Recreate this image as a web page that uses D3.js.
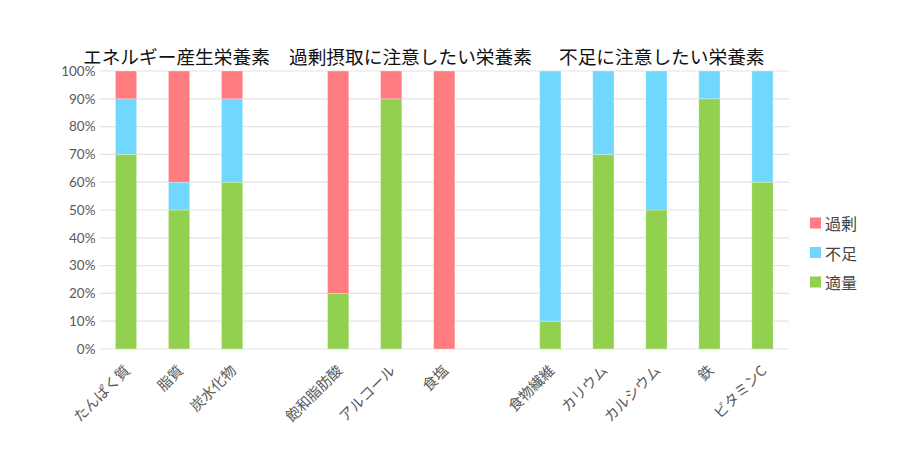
<!DOCTYPE html>
<html><head><meta charset="utf-8">
<script src="https://cdn.jsdelivr.net/npm/d3@7"></script>
<style>body{margin:0;background:#fff}svg{display:block}</style>
</head><body><svg id="c" width="920" height="458"></svg>
<script>
// Data (percentages). Empty strings are spacer slots between groups.
const categories = ["たんぱく質","脂質","炭水化物","","飽和脂肪酸","アルコール","食塩","","食物繊維","カリウム","カルシウム","鉄","ビタミンC"];
const tekiryo = [70,50,60,null,20,90,0,null,10,70,50,90,60];   // 適量
const fusoku  = [20,10,30,null,0,0,0,null,90,30,50,10,40];      // 不足
const kajo    = [10,40,10,null,80,10,100,null,0,0,0,0,0];       // 過剰
const seriesNames = ["適量","不足","過剰"];
const legendOrder = ["過剰","不足","適量"];
const groupTitles = ["エネルギー産生栄養素","過剰摂取に注意したい栄養素","不足に注意したい栄養素"];
const yTicks = [0,10,20,30,40,50,60,70,80,90,100];

const colors = {"適量":"#92d050","不足":"#70d8ff","過剰":"#ff7c80"};
const svg = d3.select("#c");
const m = {l:99.5, r:131, t:71, b:109};
const W = 920, H = 458;
const keys = categories.map((c,i)=>"k"+i);
const x = d3.scaleBand().domain(keys).range([m.l, W-m.r]).paddingInner(0.6).paddingOuter(0.3);
const y = d3.scaleLinear().domain([0,100]).range([H-m.b, m.t]);

// grid
svg.append("g").selectAll("line").data(yTicks).join("line")
  .attr("x1", m.l).attr("x2", W-m.r)
  .attr("y1", d=>y(d)).attr("y2", d=>y(d))
  .attr("stroke", "#e3e3e3").attr("stroke-width", 1.2);

// y labels
const yAxis = d3.axisLeft(y).tickValues(yTicks).tickFormat(d=>d+"%").tickSize(0).tickPadding(4);
const ya = svg.append("g").attr("transform", `translate(${m.l},0)`).call(yAxis);
ya.select(".domain").remove();
ya.selectAll("text").attr("font-family","Lato, sans-serif").attr("font-size","13.5px").attr("fill","#595959");

// stacked data
const rows = categories.map((c,i)=>({key:keys[i], "適量":tekiryo[i]||0, "不足":fusoku[i]||0, "過剰":kajo[i]||0, empty: tekiryo[i]===null}));
const stack = d3.stack().keys(seriesNames)(rows.filter(r=>!r.empty));
svg.append("g").selectAll("g").data(stack).join("g")
  .attr("fill", s=>colors[s.key])
  .selectAll("rect").data(s=>s.filter(d=>d[1]-d[0]>0)).join("rect")
  .attr("x", d=>x(d.data.key)).attr("width", x.bandwidth())
  .attr("y", d=>y(d[1])).attr("height", d=>y(d[0])-y(d[1]))
  .attr("stroke","#fff").attr("stroke-opacity",0.35).attr("stroke-width",0.8);

// x labels
const xAxis = d3.axisBottom(x).tickFormat((d,i)=>categories[i]).tickSize(0).tickPadding(0);
const xa = svg.append("g").attr("transform", `translate(0,${H-m.b})`).call(xAxis);
xa.select(".domain").remove();
xa.selectAll("text")
  .attr("font-family","'Noto Sans CJK JP', sans-serif").attr("font-size","14.5px").attr("fill","#595959")
  .attr("text-anchor","end").attr("dy",null).attr("y",null)
  .attr("transform","translate(0.5,18) rotate(-45)").attr("dominant-baseline","central");

// group titles
const titleX = [83, 289, 559];
svg.append("g").selectAll("text").data(groupTitles).join("text")
  .attr("x",(d,i)=>titleX[i]).attr("y",55.5).attr("dominant-baseline","central")
  .attr("font-family","'Noto Sans CJK JP', sans-serif").attr("font-size","18.7px").attr("fill","#111")
  .text(d=>d);

// legend
const lg = svg.append("g").selectAll("g").data(legendOrder).join("g")
  .attr("transform",(d,i)=>`translate(810,${223+i*29.5})`);
lg.append("rect").attr("x",0).attr("y",-5.5).attr("width",11).attr("height",11).attr("fill",d=>colors[d]);
lg.append("text").attr("x",15).attr("y",0).attr("dominant-baseline","central")
  .attr("font-family","'Noto Sans CJK JP', sans-serif").attr("font-size","16px").attr("fill","#444").text(d=>d);
</script></body></html>
